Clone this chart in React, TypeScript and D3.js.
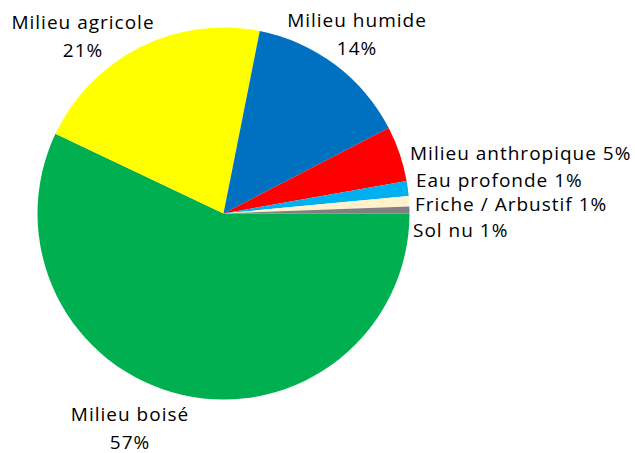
import React from 'react'
import * as d3 from 'd3'

const width = 635
const height = 453
const cx = 223.5
const cy = 213.5
const radius = 186

// slices, clockwise from 3 o'clock
const categories = [
  'Milieu boisé',
  'Milieu agricole',
  'Milieu humide',
  'Milieu anthropique',
  'Eau profonde',
  'Friche / Arbustif',
  'Sol nu',
]
const values = [57.1, 21.1, 14.3, 4.8, 1.3, 0.9, 0.6]
const colors = ['#00B050', '#FFFF00', '#0070C0', '#FF0000', '#00B0F0', '#FFF2CC', '#808080']

// label anchor per slice: [x, y, two lines?]
const labelLayout: [number, number, boolean][] = [
  [130, 421, true],
  [83, 29, true],
  [357, 27, true],
  [410, 160, false],
  [416, 187, false],
  [415, 211, false],
  [413, 237, false],
]

const font = '"Open Sans", Lato, sans-serif'
const fontSize = 19

export default function App() {
  const total = d3.sum(values)
  const data = categories.map((name, i) => ({ name, value: values[i], color: colors[i] }))
  const pie = d3
    .pie<any>()
    .sort(null)
    .value((d) => d.value)
    .startAngle(Math.PI / 2)
    .endAngle(Math.PI / 2 + 2 * Math.PI)
  const arc = d3.arc<any>().innerRadius(0).outerRadius(radius)
  const arcs = pie(data)

  return (
    <svg
      width={width}
      height={height}
      style={{ position: 'absolute', left: 0, top: 0, background: '#fff' }}
    >
      <g transform={`translate(${cx},${cy})`}>
        {arcs.map((a, i) => (
          <path key={i} d={arc(a) as string} fill={a.data.color} />
        ))}
      </g>
      {arcs.map((a, i) => {
        const [x, y, twoLines] = labelLayout[i]
        const pct = Math.round((a.data.value / total) * 100) + '%'
        const common = {
          fontFamily: font,
          fontSize,
          letterSpacing: 1,
          fill: '#000',
        }
        return twoLines ? (
          <text key={i} x={x} y={y} textAnchor="middle" {...common}>
            <tspan x={x}>{a.data.name}</tspan>
            <tspan x={x} dy={27.5}>{pct}</tspan>
          </text>
        ) : (
          <text key={i} x={x} y={y} {...common}>
            {a.data.name + ' ' + pct}
          </text>
        )
      })}
    </svg>
  )
}
